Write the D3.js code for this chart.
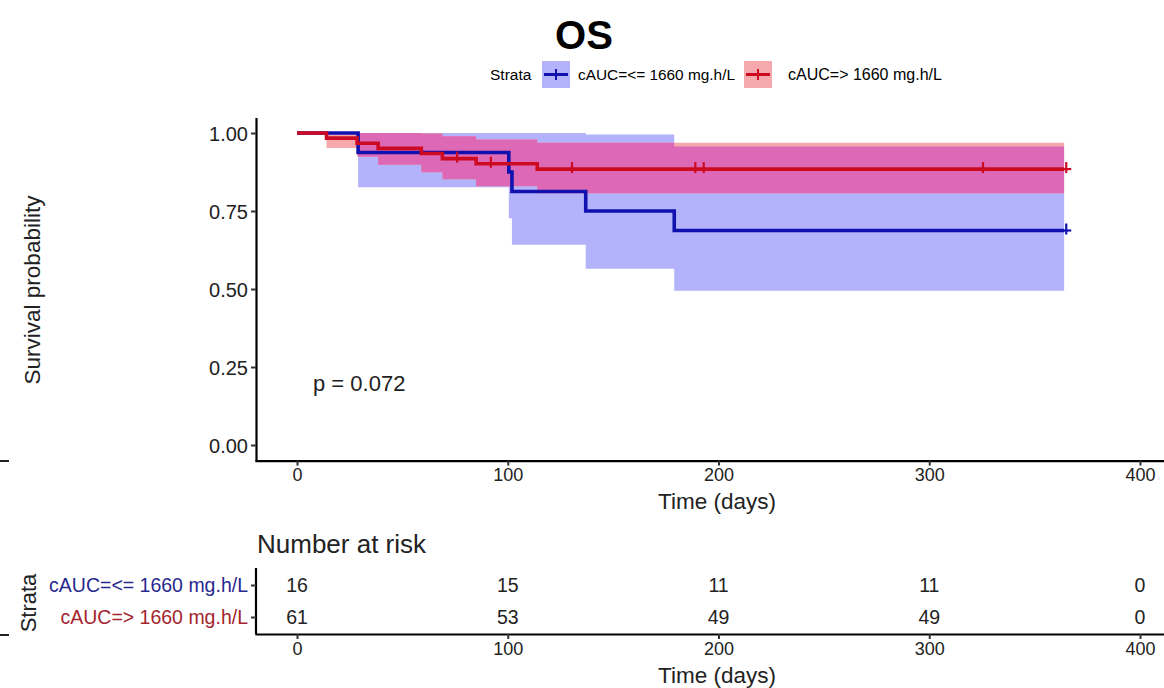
<!DOCTYPE html>
<html><head><meta charset="utf-8">
<script src="https://cdn.jsdelivr.net/npm/d3@7"></script>
<style>
body{margin:0;background:#fff;}
svg text{font-family:"Liberation Sans",Arial,sans-serif;}
</style></head>
<body><svg id="c" width="1164" height="688"></svg>
<script>
// ---- data ----
const strata = ["cAUC=<= 1660 mg.h/L", "cAUC=> 1660 mg.h/L"];
const blueTimes = [0, 29, 100.5, 102, 137, 179, 364];
const blueSurv  = [1, 0.9375, 0.875, 0.8125, 0.75, 0.6875, 0.6875];
const blueUpper = [1, 1, 1, 1, 0.995, 0.957, 0.957];
const blueLower = [1, 0.826, 0.727, 0.642, 0.565, 0.494, 0.494];
const blueCensor = [365];
const redTimes = [0, 14, 28.5, 38.5, 59, 69, 85, 114, 364];
const redSurv  = [1, 0.9836, 0.9672, 0.9508, 0.9344, 0.918, 0.9013, 0.8843, 0.8843];
const redUpper = [1, 1, 1, 1, 0.9986, 0.9895, 0.9795, 0.9687, 0.9687];
const redLower = [1, 0.952, 0.924, 0.898, 0.874, 0.852, 0.829, 0.807, 0.807];
const redCensor = [76, 92, 130.5, 189, 193, 325.5, 365];
const riskTimes = [0, 100, 200, 300, 400];
const blueRisk = [16, 15, 11, 11, 0];
const redRisk  = [61, 53, 49, 49, 0];
const xTicks = [0, 100, 200, 300, 400];
const yTicks = [0, 0.25, 0.5, 0.75, 1];
const pText = "p = 0.072";

// ---- styles ----
const C = {blueLine:"#1111b0", redLine:"#cc0a22", blueBand:"#b3b3fb", redBand:"#f6a9ad", overlap:"#dc68b6",
           blueLab:"#28288f", redLab:"#a3252d"};

const svg = d3.select("#c");
const x = d3.scaleLinear().domain([-20, 420]).range([254.85, 1182.15]);
const y = d3.scaleLinear().domain([-0.05, 1.05]).range([460.6, 117.4]);

const blue = blueTimes.map((t,i)=>({t, s:blueSurv[i], u:blueUpper[i], l:blueLower[i]}));
const red  = redTimes.map((t,i)=>({t, s:redSurv[i], u:redUpper[i], l:redLower[i]}));

const area = d3.area().curve(d3.curveStepAfter).x(d=>x(d.t)).y0(d=>y(d.l)).y1(d=>y(d.u));
const line = d3.line().curve(d3.curveStepAfter).x(d=>x(d.t)).y(d=>y(d.s));

// title
svg.append("text").attr("x",584).attr("y",49).attr("text-anchor","middle")
  .style("font-size","40px").style("font-weight","bold").text("OS");

// legend
const lg = svg.append("g");
lg.append("text").attr("x",490).attr("y",80).style("font-size","15.5px").text("Strata");
const legItems = [{x:542, band:C.blueBand, line:C.blueLine, label:strata[0], tx:578, fs:"15.4px"},
                  {x:744, band:C.redBand, line:C.redLine, label:strata[1], tx:788, fs:"16px"}];
legItems.forEach(it=>{
  lg.append("rect").attr("x",it.x).attr("y",61).attr("width",28).attr("height",27).attr("fill",it.band);
  lg.append("line").attr("x1",it.x+2).attr("x2",it.x+26).attr("y1",74.5).attr("y2",74.5).attr("stroke",it.line).attr("stroke-width",3);
  lg.append("line").attr("x1",it.x+14).attr("x2",it.x+14).attr("y1",69).attr("y2",80).attr("stroke",it.line).attr("stroke-width",2);
  lg.append("text").attr("x",it.tx).attr("y",80).style("font-size",it.fs).text(it.label);
});

// bands
const defs = svg.append("defs");
defs.append("clipPath").attr("id","blueClip").append("path").attr("d", area(blue));
svg.append("path").attr("d",area(blue)).attr("fill",C.blueBand);
svg.append("path").attr("d",area(red)).attr("fill",C.redBand);
svg.append("path").attr("d",area(red)).attr("fill",C.overlap).attr("clip-path","url(#blueClip)");

// curves
svg.append("path").attr("d",line(blue)).attr("fill","none").attr("stroke",C.blueLine).attr("stroke-width",3.6);
svg.append("path").attr("d",line(red)).attr("fill","none").attr("stroke",C.redLine).attr("stroke-width",3.6);

// censor marks
function censor(times, series, col){
  times.forEach(t=>{
    let s = series[0].s;
    series.forEach(d=>{ if (d.t <= t) s = d.s; });
    const cx = x(t), cy = y(s);
    svg.append("line").attr("x1",cx-5).attr("x2",cx+5).attr("y1",cy).attr("y2",cy).attr("stroke",col).attr("stroke-width",2.2);
    svg.append("line").attr("x1",cx).attr("x2",cx).attr("y1",cy-7).attr("y2",cy+4).attr("stroke",col).attr("stroke-width",2.2);
  });
}
censor(blueCensor, blue, C.blueLine);
censor(redCensor, red, C.redLine);

// axes (upper)
const ax = svg.append("g").attr("transform","translate(0,460.6)")
  .call(d3.axisBottom(x).tickValues(xTicks).tickSize(5).tickPadding(3).tickSizeOuter(0));
const ay = svg.append("g").attr("transform","translate(256,0)")
  .call(d3.axisLeft(y).tickValues(yTicks).tickFormat(d3.format(".2f")).tickSize(5).tickPadding(3).tickSizeOuter(0));
[ax,ay].forEach(g=>{
  g.select(".domain").attr("stroke","#000").attr("stroke-width",2.2);
  g.selectAll(".tick line").attr("stroke","#333").attr("stroke-width",2);
  g.selectAll("text").attr("fill","#222").style("font-family","Liberation Sans, Arial, sans-serif");
});
ax.selectAll("text").style("font-size","18px");
ay.selectAll("text").style("font-size","20px").attr("dy","0.35em");

svg.append("text").attr("x",717).attr("y",509).attr("text-anchor","middle").style("font-size","22.5px").attr("fill","#222").text("Time (days)");
svg.append("text").attr("transform","translate(40,290) rotate(-90)").attr("text-anchor","middle").style("font-size","22.5px").attr("fill","#222").text("Survival probability");
svg.append("text").attr("x",313).attr("y",391).style("font-size","22px").attr("fill","#222").text(pText);

// left dashes
svg.append("line").attr("x1",0).attr("x2",9).attr("y1",461).attr("y2",461).attr("stroke","#222").attr("stroke-width",2);
svg.append("line").attr("x1",0).attr("x2",9).attr("y1",635).attr("y2",635).attr("stroke","#222").attr("stroke-width",2);

// risk table
svg.append("text").attr("x",257).attr("y",553).style("font-size","26px").attr("fill","#222").text("Number at risk");
const yr = d3.scalePoint().domain(strata).range([585, 617]);
const ax2 = svg.append("g").attr("transform","translate(0,634)")
  .call(d3.axisBottom(x).tickValues(xTicks).tickSize(5).tickPadding(3).tickSizeOuter(0));
const ay2 = svg.append("g").attr("transform","translate(256,0)")
  .call(d3.axisLeft(yr).tickSize(5).tickPadding(3).tickSizeOuter(0));
ay2.select(".domain").attr("d","M0,568V634");
[ax2,ay2].forEach(g=>{
  g.select(".domain").attr("stroke","#000").attr("stroke-width",2.2);
  g.selectAll(".tick line").attr("stroke","#333").attr("stroke-width",2);
  g.selectAll("text").style("font-family","Liberation Sans, Arial, sans-serif");
});
ax2.selectAll("text").style("font-size","18px").attr("fill","#222");
ay2.selectAll("text").style("font-size","19.5px").attr("dy","0.35em").attr("fill",(d,i)=> i===0?C.blueLab:C.redLab);
svg.append("text").attr("x",717).attr("y",683).attr("text-anchor","middle").style("font-size","22.5px").attr("fill","#222").text("Time (days)");
svg.append("text").attr("transform","translate(36,603) rotate(-90)").attr("text-anchor","middle").style("font-size","22px").attr("fill","#222").text("Strata");

const rows = [{k:strata[0], v:blueRisk}, {k:strata[1], v:redRisk}];
rows.forEach(r=>{
  svg.append("g").selectAll("text").data(r.v).join("text")
    .attr("x",(d,i)=>x(riskTimes[i])).attr("y",yr(r.k)).attr("dy","0.35em").attr("text-anchor","middle")
    .style("font-size","19.5px").attr("fill","#222").text(d=>d);
});
</script></body></html>
